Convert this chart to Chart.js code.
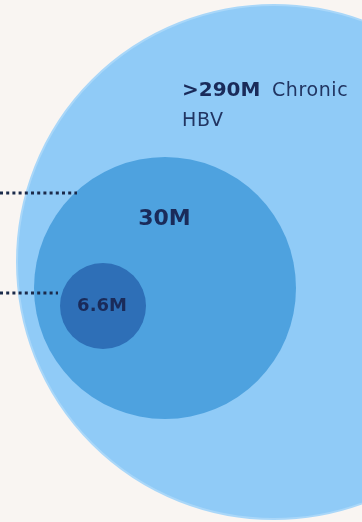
<!DOCTYPE html>
<html>
<head>
<meta charset="utf-8">
<script src="https://cdn.jsdelivr.net/npm/chart.js@4"></script>
<style>
    html, body {
        margin: 0;
        padding: 0;
        background: #f9f5f2;
    }
    #wrap {
        width: 362px;
        height: 522px;
    }
</style>
</head>
<body>
<div id="wrap"><canvas id="circles" width="362" height="522"></canvas></div>
<script>
// nested population circles (centre x, centre y, radius) on a 362 x 522 grid
const circleNames = ["Chronic HBV", "Middle group", "Inner group"];
const circleX = [274, 165, 103];
const circleY = [262, 288, 306];
const circleR = [257, 131, 43];

// dotted leader lines running in from the left edge
const leaderY = [193, 293];
const leaderEndX = [77, 58];

// labels
const bigValue = ">290M";
const bigWords = ["Chronic", "HBV"];
const midValue = "30M";
const smallValue = "6.6M";

const fills = ["#90cbf7", "#4ea2df", "#2e6fb7"];
const navy = "#1a2b5a";

const bubbles = circleX.map((x, i) => ({ x, y: circleY[i], r: circleR[i] }));

const leaders = leaderY.map((y, i) => ({
    type: "line",
    data: [{ x: 0, y }, { x: leaderEndX[i], y }],
    borderColor: "#1b2a4a",
    borderWidth: 3,
    borderDash: [3, 3.2],
    pointRadius: 0,
    fill: false,
    order: 0
}));

// text is placed in data units, then converted with the chart's own scales
const textPlugin = {
    id: "circleText",
    afterDatasetsDraw(chart) {
        const { ctx, scales } = chart;
        const px = v => scales.x.getPixelForValue(v);
        const py = v => scales.y.getPixelForValue(v);

        ctx.save();
        ctx.fillStyle = navy;
        ctx.textBaseline = "alphabetic";

        ctx.textAlign = "left";
        ctx.font = "bold 20px 'DejaVu Sans'";
        ctx.fillText(bigValue, px(182), py(96));
        ctx.font = "19px 'DejaVu Sans'";
        ctx.fillStyle = "#213562";
        ctx.letterSpacing = "0.6px";
        ctx.fillText(bigWords[0], px(272), py(96));
        ctx.fillText(bigWords[1], px(182), py(126));
        ctx.letterSpacing = "0px";

        ctx.fillStyle = navy;
        ctx.textAlign = "center";
        ctx.font = "bold 22px 'DejaVu Sans'";
        ctx.fillText(midValue, px(164.5), py(225));
        ctx.font = "bold 18px 'DejaVu Sans'";
        ctx.fillText(smallValue, px(102), py(311));
        ctx.restore();
    }
};

new Chart(document.getElementById("circles"), {
    type: "bubble",
    data: {
        datasets: [
            ...leaders,
            {
                label: "Population",
                data: bubbles,
                backgroundColor: fills,
                borderColor: ["#a9d7f9", fills[1], fills[2]],
                borderWidth: [2, 0, 0],
                order: 1
            }
        ]
    },
    options: {
        responsive: false,
        animation: false,
        events: [],
        // keep the plot area on the full canvas; the big circle runs off the right edge
        layout: { padding: 0, autoPadding: false },
        scales: {
            x: { type: "linear", min: 0, max: 362, display: false },
            y: { type: "linear", min: 0, max: 522, reverse: true, display: false }
        },
        plugins: {
            legend: { display: false },
            tooltip: { enabled: false }
        }
    },
    plugins: [textPlugin]
});
</script>
</body>
</html>
